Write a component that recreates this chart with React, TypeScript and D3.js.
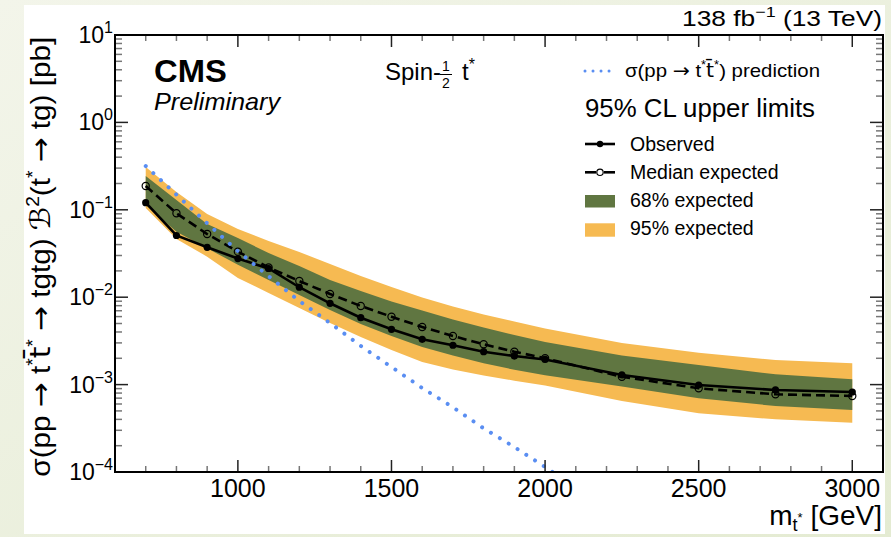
import React from 'react';
import * as d3 from 'd3';

const W = 891;
const H = 537;

// mass points of the limit scan [GeV]
const masses = [700, 800, 900, 1000, 1100, 1200, 1300, 1400, 1500, 1600, 1700, 1800, 1900, 2000, 2250, 2500, 2750, 3000];
const observed = [0.1206, 0.0508, 0.0372, 0.0277, 0.0213, 0.013, 0.00852, 0.00583, 0.00429, 0.0033, 0.00282, 0.00238, 0.00212, 0.00194, 0.00129, 0.000989, 0.000868, 0.000823];
const expected = [0.187, 0.0912, 0.0528, 0.0332, 0.0219, 0.0153, 0.0109, 0.00793, 0.00598, 0.00456, 0.0036, 0.00289, 0.00238, 0.002, 0.00123, 0.000907, 0.000774, 0.000741];
const up68 = [0.2435, 0.1295, 0.0688, 0.0476, 0.032, 0.0228, 0.0157, 0.0118, 0.00893, 0.00704, 0.00556, 0.0045, 0.00369, 0.00307, 0.00215, 0.00168, 0.00131, 0.00115];
const down68 = [0.1135, 0.0561, 0.0363, 0.0235, 0.0157, 0.0106, 0.00714, 0.00494, 0.0036, 0.00269, 0.00215, 0.00175, 0.00148, 0.00128, 0.000951, 0.000697, 0.000569, 0.000512];
const up95 = [0.309, 0.16, 0.0895, 0.0603, 0.044, 0.0329, 0.024, 0.0175, 0.0131, 0.00992, 0.00783, 0.00634, 0.00527, 0.00438, 0.00299, 0.00232, 0.00191, 0.00175];
const down95 = [0.1049, 0.0463, 0.0291, 0.0166, 0.0112, 0.00752, 0.00507, 0.0035, 0.00249, 0.00181, 0.00149, 0.00127, 0.00111, 0.000977, 0.000649, 0.000469, 0.000401, 0.000367];

// theory cross section
const theoryMasses = [700, 800, 900, 1000, 1100, 1200, 1300, 1400, 1500, 1600, 1700, 1800, 1900, 2000, 2100];
const theoryXsec = [0.317, 0.149, 0.0701, 0.0336, 0.0174, 0.00906, 0.00507, 0.00277, 0.00159, 0.000914, 0.00055, 0.000316, 0.000193, 0.000114, 0.000067];

const xTickLabels = [1000, 1500, 2000, 2500, 3000];
const yDecades = [1, 0, -1, -2, -3, -4];

const FONT = '"Liberation Sans", Arial, Helvetica, sans-serif';
const SYM = '"DejaVu Sans", sans-serif';
const ORANGE = '#F6BA52';
const GREEN = '#607641';
const BLUE = '#5A8EF2';

const left = 115, right = 883, top = 35, bottom = 472;

const App = () => {
  const x = d3.scaleLinear().domain([600, 3100]).range([left, right]);
  const y = d3.scaleLog().domain([1e-4, 10]).range([bottom, top]);

  const idx = masses.map((_, i) => i);
  const band = (lo: number[], hi: number[]) =>
    d3.area<number>().x(i => x(masses[i])).y0(i => y(lo[i])).y1(i => y(hi[i]))(idx) || '';
  const line = (vals: number[]) => d3.line<number>().x(i => x(masses[i])).y(i => y(vals[i]))(idx) || '';
  const theoryPath = d3.line<number>().x((_, i) => x(theoryMasses[i])).y(d => y(d))(theoryXsec) || '';

  const xMinor = d3.range(700, 3100, 100);
  const yMinor: number[] = [];
  for (let d = -4; d < 1; d++) for (let k = 2; k <= 9; k++) yMinor.push(k * Math.pow(10, d));

  const sup = (d: number) => (d < 0 ? '\u2212' + Math.abs(d) : String(d));
  const arrow = <tspan fontFamily={SYM}>→</tspan>;

  return (
    <div style={{ position: 'fixed', left: 0, top: 0, width: W, height: H }}>
      <svg width={W} height={H} style={{ display: 'block' }} fontFamily={FONT}>
        <defs>
          <linearGradient id="bg" x1="0" y1="0" x2="1" y2="1">
            <stop offset="0" stopColor="#F3F5EA" />
            <stop offset="1" stopColor="#E4EBD2" />
          </linearGradient>
          <clipPath id="plot">
            <rect x={left} y={top} width={right - left} height={bottom - top} />
          </clipPath>
        </defs>
        <rect width={W} height={H} fill="url(#bg)" />
        <rect x={24} y={5} width={861} height={529} fill="#fff" />

        <g clipPath="url(#plot)">
          <path d={band(down95, up95)} fill={ORANGE} />
          <path d={band(down68, up68)} fill={GREEN} />
          <path d={line(expected)} fill="none" stroke="#000" strokeWidth={2.6} strokeDasharray="9 5" />
          {masses.map((m, i) => (
            <circle key={'e' + m} cx={x(m)} cy={y(expected[i])} r={3.6} fill="none" stroke="#000" strokeWidth={1.2} />
          ))}
          <path d={line(observed)} fill="none" stroke="#000" strokeWidth={2.6} />
          {masses.map((m, i) => (
            <circle key={'o' + m} cx={x(m)} cy={y(observed[i])} r={3.6} fill="#000" />
          ))}
          <path d={theoryPath} fill="none" stroke={BLUE} strokeWidth={4} strokeLinecap="round" strokeDasharray="0.01 10.4" />
        </g>

        {/* ticks */}
        {xMinor.map(v => {
          const major = v % 500 === 0;
          const len = major ? 12 : 6;
          return (
            <g key={'xt' + v} stroke={major ? '#222' : '#777'} strokeWidth={1.5}>
              <line x1={x(v)} x2={x(v)} y1={bottom} y2={bottom - len} />
              <line x1={x(v)} x2={x(v)} y1={top} y2={top + len} />
            </g>
          );
        })}
        {yDecades.map(d => (
          <g key={'yt' + d} stroke="#222" strokeWidth={1.5}>
            <line x1={left} x2={left + 13} y1={y(Math.pow(10, d))} y2={y(Math.pow(10, d))} />
            <line x1={right} x2={right - 13} y1={y(Math.pow(10, d))} y2={y(Math.pow(10, d))} />
          </g>
        ))}
        {yMinor.map(v => (
          <g key={'ym' + v} stroke="#777" strokeWidth={1.5}>
            <line x1={left} x2={left + 7} y1={y(v)} y2={y(v)} />
            <line x1={right} x2={right - 7} y1={y(v)} y2={y(v)} />
          </g>
        ))}
        <rect x={left} y={top} width={right - left} height={bottom - top} fill="none" stroke="#000" strokeWidth={2} />

        {/* tick labels */}
        {xTickLabels.map(v => (
          <text key={'xl' + v} x={x(v)} y={497} textAnchor="middle" fontSize={25}>{v}</text>
        ))}
        {yDecades.map(d => (
          <text key={'yl' + d} x={113} y={y(Math.pow(10, d)) + 8} textAnchor="end" fontSize={23}>
            10<tspan dy={-10} fontSize={16}>{sup(d)}</tspan>
          </text>
        ))}

        {/* axis titles */}
        <text x={882} y={525} textAnchor="end" fontSize={28}>
          m<tspan dy={6} fontSize={18}>t</tspan><tspan dy={-9} fontSize={13}>*</tspan><tspan dy={3}> [GeV]</tspan>
        </text>
        <text transform="translate(49.5,256.7) rotate(-90)" textAnchor="middle" fontSize={28} textLength={440} lengthAdjust="spacingAndGlyphs">
          σ(pp {arrow} t<tspan dy={-11} fontSize={18}>*</tspan><tspan dy={11} fontFamily={SYM}>t̄</tspan><tspan dy={-11} fontSize={18}>*</tspan>
          <tspan dy={11}> </tspan>{arrow}<tspan> tgtg) </tspan><tspan fontFamily={SYM} fontStyle="italic">ℬ</tspan><tspan dy={-11} fontSize={18}>2</tspan><tspan dy={11}>(t</tspan>
          <tspan dy={-11} fontSize={18}>*</tspan><tspan dy={11}> </tspan>{arrow}<tspan> tg) [pb]</tspan>
        </text>

        {/* labels */}
        <text x={882} y={26} textAnchor="end" fontSize={22} textLength={200} lengthAdjust="spacingAndGlyphs">
          138 fb<tspan dy={-9} fontSize={15}>−1</tspan><tspan dy={9}> (13 TeV)</tspan>
        </text>
        <text x={154} y={81.7} fontSize={31} fontWeight="bold" textLength={72.7} lengthAdjust="spacingAndGlyphs">CMS</text>
        <text x={154} y={110} fontSize={24} fontStyle="italic" textLength={126} lengthAdjust="spacingAndGlyphs">Preliminary</text>

        <g fontSize={24}>
          <text x={385} y={80}>Spin-</text>
          <text x={446} y={71} fontSize={14} textAnchor="middle">1</text>
          <line x1={440} x2={452} y1={74.5} y2={74.5} stroke="#000" strokeWidth={1} />
          <text x={446} y={88} fontSize={14} textAnchor="middle">2</text>
          <text x={462} y={80}>t<tspan dy={-10} fontSize={16}>*</tspan></text>
        </g>

        {/* legend */}
        <line x1={585} x2={613} y1={71} y2={71} stroke={BLUE} strokeWidth={3} strokeLinecap="round" strokeDasharray="0.01 8" />
        <text x={625} y={77} fontSize={19} textLength={195} lengthAdjust="spacingAndGlyphs">
          σ(pp {arrow} t<tspan dy={-8} fontSize={12}>*</tspan><tspan dy={8} fontFamily={SYM}>t̄</tspan><tspan dy={-8} fontSize={12}>*</tspan><tspan dy={8}>) prediction</tspan>
        </text>
        <text x={585} y={117} fontSize={25} textLength={230} lengthAdjust="spacingAndGlyphs">95% CL upper limits</text>

        <line x1={585} x2={615} y1={144} y2={144} stroke="#000" strokeWidth={2.6} />
        <circle cx={600} cy={144} r={3.2} fill="#000" />
        <text x={630} y={150.7} fontSize={19.5}>Observed</text>

        <line x1={585} x2={596} y1={172.3} y2={172.3} stroke="#000" strokeWidth={2.6} />
        <line x1={604} x2={615} y1={172.3} y2={172.3} stroke="#000" strokeWidth={2.6} />
        <circle cx={600} cy={172.3} r={3.2} fill="#fff" stroke="#000" strokeWidth={1.2} />
        <text x={630} y={179} fontSize={19.5}>Median expected</text>

        <rect x={585} y={195} width={30} height={12.5} fill={GREEN} />
        <text x={630} y={207} fontSize={19.5}>68% expected</text>
        <rect x={585} y={223.3} width={30} height={13.4} fill={ORANGE} />
        <text x={630} y={235} fontSize={19.5}>95% expected</text>
      </svg>
    </div>
  );
};

export default App;
